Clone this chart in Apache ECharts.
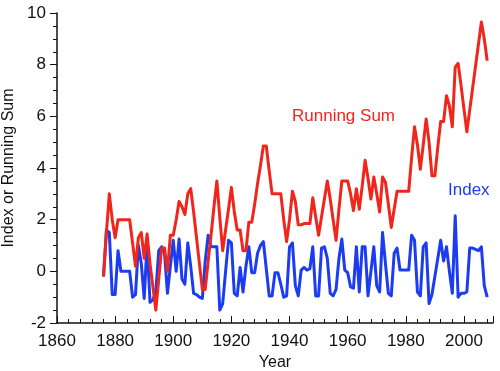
<!DOCTYPE html>
<html>
<head>
<meta charset="utf-8">
<script src="https://cdn.jsdelivr.net/npm/echarts@6/dist/echarts.min.js"></script>
<style>
  html, body { margin: 0; padding: 0; background: #fff; }
  #chart { width: 500px; height: 371px; }
</style>
</head>
<body>
<div id="chart"></div>
<script>
// years of the record
const years = [
  1876, 1877, 1878, 1879, 1880, 1881, 1882, 1883, 1884, 1885, 1886, 1887, 1888, 1889,
  1890, 1891, 1892, 1893, 1894, 1895, 1896, 1897, 1898, 1899, 1900, 1901, 1902, 1903,
  1904, 1905, 1906, 1907, 1908, 1909, 1910, 1911, 1912, 1913, 1914, 1915, 1916, 1917,
  1918, 1919, 1920, 1921, 1922, 1923, 1924, 1925, 1926, 1927, 1928, 1929, 1930, 1931,
  1932, 1933, 1934, 1935, 1936, 1937, 1938, 1939, 1940, 1941, 1942, 1943, 1944, 1945,
  1946, 1947, 1948, 1949, 1950, 1951, 1952, 1953, 1954, 1955, 1956, 1957, 1958, 1959,
  1960, 1961, 1962, 1963, 1964, 1965, 1966, 1967, 1968, 1969, 1970, 1971, 1972, 1973,
  1974, 1975, 1976, 1977, 1978, 1979, 1980, 1981, 1982, 1983, 1984, 1985, 1986, 1987,
  1988, 1989, 1990, 1991, 1992, 1993, 1994, 1995, 1996, 1997, 1998, 1999, 2000, 2001,
  2002, 2003, 2004, 2005, 2006, 2007, 2008
]

// yearly index (blue)
const indexValues = [
  -0.2, 1.6, 1.5, -0.9, -0.9, 0.8, 0.0, 0.0, 0.0, 0.0, -1.0, -0.9, 1.0, 0.3,
  -1.05, 1.1, -1.2, -1.1, -0.8, 0.8, 0.95, 0.7, -0.85, 0.2, 1.2, 0.0, 1.25, -0.3,
  -0.5, 1.1, 0.2, -0.85, -0.9, -1.0, -1.05, 0.4, 1.4, 0.95, 0.95, 0.95, -1.5, -1.25,
  0.0, 1.2, 1.1, -0.85, -0.95, 0.15, -0.8, 0.2, 0.95, -0.05, -0.05, 0.7, 1.0, 1.15,
  0.1, -0.95, -0.95, -0.05, -0.05, -0.5, -1.0, -0.95, 0.95, 1.1, -0.55, -0.95, 0.05, 0.15,
  0.05, 0.1, 0.95, -0.95, -0.95, 0.9, 0.95, 0.5, -0.85, -0.95, -0.7, 0.5, 1.25, 0.05,
  -0.05, -0.6, -0.65, 0.95, -0.8, 0.95, 0.95, -0.95, 0.0, 0.95, -0.55, -0.8, 1.5, 0.3,
  -0.85, -0.95, 0.7, 0.9, 0.05, 0.05, 0.05, 0.05, 1.4, 1.2, -0.8, -0.95, 0.95, 1.1,
  -1.25, -0.9, -0.2, 0.5, 1.2, 0.4, 0.95, 0.0, -0.85, 2.15, -1.0, -0.85, -0.85, -0.8,
  0.9, 0.9, 0.85, 0.8, 0.95, -0.55, -1.0
]

// running sum (red)
const runningSum = [
  -0.2, 1.5, 3.0, 2.0, 1.3, 2.0, 2.0, 2.0, 2.0, 2.0, 1.1, 0.2, 1.3, 1.5,
  0.5, 1.45, 0.3, -0.6, -1.5, -0.3, 0.9, 0.9, 0.0, 1.4, 1.4, 2.0, 2.7, 2.5,
  2.2, 3.0, 3.2, 2.3, 1.3, 0.3, -0.7, -0.7, 0.4, 1.4, 2.5, 3.5, 2.1, 0.8,
  1.6, 2.4, 3.25, 2.3, 1.6, 1.6, 0.8, 0.8, 1.9, 1.9, 2.6, 3.4, 4.1, 4.85,
  4.85, 3.9, 3.0, 3.0, 3.0, 3.0, 2.0, 1.15, 2.0, 3.1, 2.7, 1.8, 1.8, 1.85,
  1.85, 1.85, 2.85, 2.1, 1.4, 2.1, 2.8, 3.5, 2.8, 2.0, 1.2, 2.4, 3.5, 3.5,
  3.5, 3.0, 2.35, 3.2, 2.4, 3.3, 4.3, 3.6, 2.8, 3.65, 3.0, 2.3, 3.65, 3.45,
  2.6, 1.7, 2.4, 3.1, 3.1, 3.1, 3.1, 3.1, 4.4, 5.6, 4.9, 3.95, 4.9, 5.9,
  5.0, 3.7, 3.7, 4.8, 5.8, 5.8, 6.8, 6.4, 5.6, 7.9, 8.05, 7.2, 6.3, 5.4,
  6.25, 7.1, 7.95, 8.8, 9.65, 9.0, 8.15
]

const RED = '#f0261c'
const BLUE = '#1c3cf2'
const FONT = '"Liberation Sans", Arial, Helvetica, sans-serif'

const chart = echarts.init(document.getElementById('chart'), null, { renderer: 'canvas' })

chart.setOption({
  animation: false,
  backgroundColor: '#fff',
  grid: { left: 57, right: 7, top: 13, bottom: 48, containLabel: false, outerBoundsMode: 'none' },
  xAxis: {
    type: 'value',
    min: 1860,
    max: 2010,
    interval: 20,
    name: 'Year',
    nameLocation: 'middle',
    nameGap: 32,
    nameTextStyle: { color: '#111', fontSize: 16, fontFamily: FONT },
    axisLine: { onZero: false, lineStyle: { color: '#111', width: 1.5 } },
    axisTick: { inside: true, length: 7, lineStyle: { color: '#111', width: 1 } },
    minorTick: { show: true, splitNumber: 5, length: 4, lineStyle: { color: '#111' } },
    axisLabel: {
      color: '#111', fontSize: 17, fontFamily: FONT, margin: 10, showMaxLabel: false,
      formatter: v => String(v)
    },
    splitLine: { show: false }
  },
  yAxis: {
    type: 'value',
    min: -2,
    max: 10,
    interval: 2,
    name: 'Index or Running Sum',
    nameLocation: 'middle',
    nameGap: 37,
    nameTextStyle: { color: '#111', fontSize: 16, fontFamily: FONT },
    axisLine: { show: true, onZero: false, lineStyle: { color: '#111', width: 1.5 } },
    axisTick: { show: true, inside: false, length: 7, lineStyle: { color: '#111' } },
    minorTick: { show: true, splitNumber: 4, length: 4, lineStyle: { color: '#111' } },
    axisLabel: { color: '#111', fontSize: 17, fontFamily: FONT, margin: 11 },
    splitLine: { show: false }
  },
  graphic: [
    { type: 'text', left: 292, top: 108, style: { text: 'Running Sum', fill: RED, fontSize: 17, fontFamily: FONT } },
    { type: 'text', left: 448, top: 182, style: { text: 'Index', fill: BLUE, fontSize: 17, fontFamily: FONT } }
  ],
  series: [
    {
      name: 'Index',
      type: 'line',
      showSymbol: false,
      data: years.map((y, i) => [y, indexValues[i]]),
      lineStyle: { color: BLUE, width: 3, join: 'round' },
      z: 2
    },
    {
      name: 'Running Sum',
      type: 'line',
      showSymbol: false,
      data: years.map((y, i) => [y, runningSum[i]]),
      lineStyle: { color: RED, width: 3, join: 'round' },
      z: 3
    }
  ]
})
</script>
</body>
</html>
